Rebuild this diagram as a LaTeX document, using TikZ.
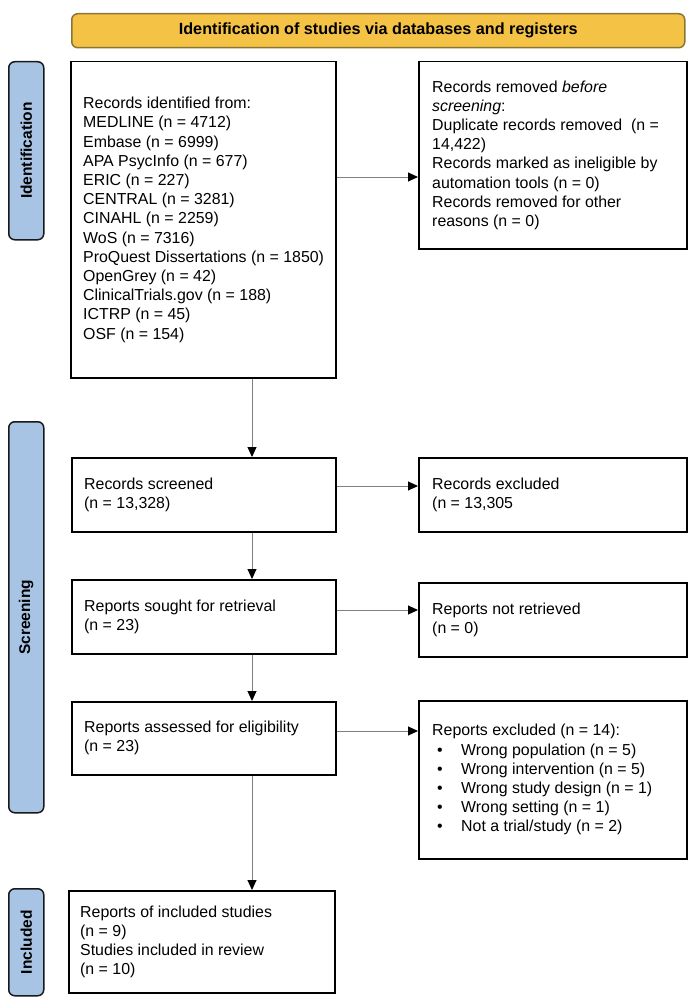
\documentclass[tikz,border=0pt]{standalone}
\usepackage{fontspec}
\setmainfont{Liberation Sans}
\usetikzlibrary{arrows.meta}
\definecolor{bannerfill}{HTML}{F4C245}
\definecolor{bannerdraw}{HTML}{8A7634}
\definecolor{barfill}{HTML}{A8C4E5}
\definecolor{arrgray}{HTML}{808080}
\begin{document}
\begin{tikzpicture}[x=1pt,y=-1pt,
  frame/.style={draw=black, line width=1.5pt, anchor=north west, inner sep=0pt},
  txt/.style={anchor=west, inner sep=0pt, align=left, font=\fontsize{15.9}{19.2}\selectfont},
  bar/.style={draw=black!90, line width=1.5pt, fill=barfill, rounded corners=6pt, anchor=north west,
    minimum width=35pt, inner sep=0pt},
  barlabel/.style={rotate=90, font=\bfseries\fontsize{15.5}{18}\selectfont},
  bul/.style={},
  arr/.style={draw=arrgray, line width=1pt, -{Triangle[length=10pt,width=9pt,color=black]}}]
\useasboundingbox (0,0) rectangle (693,1006);
\newcommand{\bulitem}{\makebox[29pt][l]{\hspace{5pt}\textbullet}}

% banner
\node[draw=bannerdraw, line width=1.5pt, fill=bannerfill, rounded corners=6pt, anchor=north west,
  minimum width=613pt, minimum height=34pt, inner sep=0pt,
  font=\bfseries\fontsize{16.2}{18}\selectfont] (banner) at (71,13)
  {Identification of studies via databases and registers};

% side bars
\node[bar, minimum height=178pt] (barI) at (8,61) {};
\node[barlabel] (labI) at (barI.center) {Identification};
\node[bar, minimum height=391pt] (barS) at (8,421) {};
\node[barlabel] (labS) at (barS.center) {Screening};
\node[bar, minimum height=107pt] (barC) at (8,888) {};
\node[barlabel] (labC) at (barC.center) {Included};

% left column frames
\node[frame, minimum width=265pt, minimum height=316pt] (B1) at (70,61) {};
\node[frame, minimum width=264pt, minimum height=74pt] (B2) at (71,457) {};
\node[frame, minimum width=264pt, minimum height=74pt] (B3) at (71,579) {};
\node[frame, minimum width=264pt, minimum height=73pt] (B4) at (71,701) {};
\node[frame, minimum width=266pt, minimum height=102pt] (B5) at (68,890) {};

% right column frames
\node[frame, minimum width=268pt, minimum height=187pt] (R1) at (418,61) {};
\node[frame, minimum width=268pt, minimum height=74pt] (R2) at (418,457) {};
\node[frame, minimum width=268pt, minimum height=74pt] (R3) at (418,582) {};
\node[frame, minimum width=268pt, minimum height=158pt] (R4) at (418,700) {};

% texts
\node[txt] (B1t) at ([xshift=13pt]B1.west)
  {Records identified from:\\
   MEDLINE (n = 4712)\\
   Embase (n = 6999)\\
   APA PsycInfo (n = 677)\\
   ERIC (n = 227)\\
   CENTRAL (n = 3281)\\
   CINAHL (n = 2259)\\
   WoS (n = 7316)\\
   ProQuest Dissertations (n = 1850)\\
   OpenGrey (n = 42)\\
   ClinicalTrials.gov (n = 188)\\
   ICTRP (n = 45)\\
   OSF (n = 154)};
\node[txt] (B2t) at ([xshift=13pt]B2.west) {Records screened\\(n = 13,328)};
\node[txt] (B3t) at ([xshift=13pt]B3.west) {Reports sought for retrieval\\(n = 23)};
\node[txt] (B4t) at ([xshift=13pt]B4.west) {Reports assessed for eligibility\\(n = 23)};
\node[txt] (B5t) at ([xshift=12pt]B5.west)
  {Reports of included studies\\(n = 9)\\Studies included in review\\(n = 10)};

\node[txt] (R1t) at ([xshift=14pt]R1.west)
  {Records removed \textit{before}\\
   \textit{screening}:\\
   Duplicate records removed~~(n =\\
   14,422)\\
   Records marked as ineligible by\\
   automation tools (n = 0)\\
   Records removed for other\\
   reasons (n = 0)};
\node[txt] (R2t) at ([xshift=14pt]R2.west) {Records excluded\\(n = 13,305};
\node[txt] (R3t) at ([xshift=14pt]R3.west) {Reports not retrieved\\(n = 0)};
\node[txt] (R4t) at ([xshift=14pt]R4.west)
  {Reports excluded (n = 14):\\
   \bulitem Wrong population (n = 5)\\
   \bulitem Wrong intervention (n = 5)\\
   \bulitem Wrong study design (n = 1)\\
   \bulitem Wrong setting (n = 1)\\
   \bulitem Not a trial/study (n = 2)};

% arrow guide coordinates
\coordinate (ax) at (252,0);
\coordinate (y1) at (0,177);
\coordinate (y2) at (0,486);
\coordinate (y3) at (0,610);
\coordinate (y4) at (0,731);

% vertical arrows
\draw[arr] (B1.south -| ax) -- (B2.north -| ax);
\draw[arr] (B2.south -| ax) -- (B3.north -| ax);
\draw[arr] (B3.south -| ax) -- (B4.north -| ax);
\draw[arr] (B4.south -| ax) -- (B5.north -| ax);

% horizontal arrows
\draw[arr] (B1.east |- y1) -- (R1.west |- y1);
\draw[arr] (B2.east |- y2) -- (R2.west |- y2);
\draw[arr] (B3.east |- y3) -- (R3.west |- y3);
\draw[arr] (B4.east |- y4) -- (R4.west |- y4);
\end{tikzpicture}
\end{document}
